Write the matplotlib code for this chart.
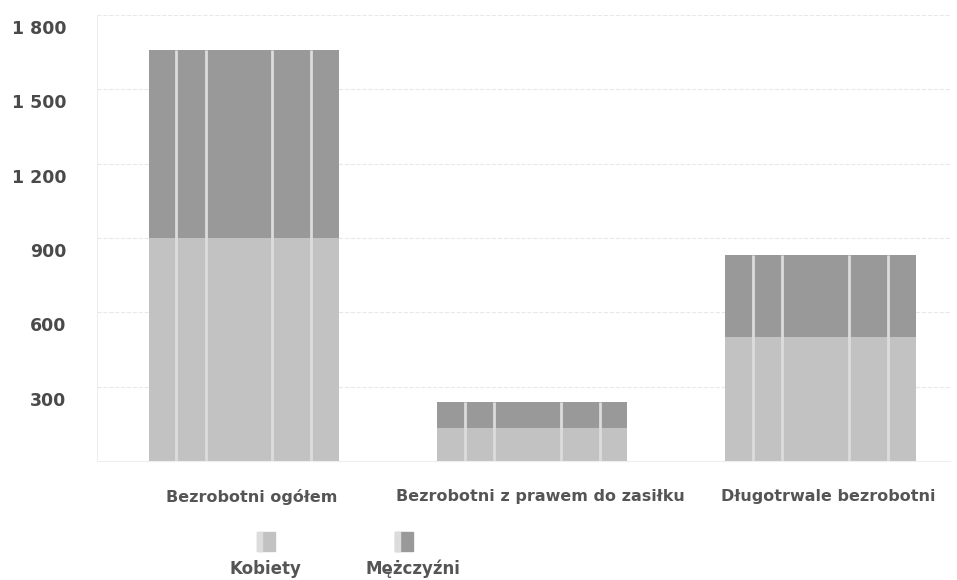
import numpy as np
import matplotlib.pyplot as plt
import matplotlib.transforms as mtransforms
from matplotlib.patches import Rectangle

plt.rcParams['font.family'] = ['DejaVu Sans']

kategorie = ['Bezrobotni ogółem', 'Bezrobotni z prawem do zasiłku', 'Długotrwale bezrobotni']
kobiety = [900, 133, 500]
mezczyzni = [760, 105, 330]
serie = ['Kobiety', 'Mężczyźni']
kolory = ['#c2c2c2', '#999999']
y_ticks = [300, 600, 900, 1200, 1500, 1800]
y_labels = ['300', '600', '900', '1 200', '1 500', '1 800']

fig = plt.figure(figsize=(9.57, 5.8), dpi=100)
ax = fig.add_axes([0.101, 0.205, 0.892, 0.769])

x = np.arange(len(kategorie))
b1 = ax.bar(x, kobiety, width=0.66, color=kolory[0], label=serie[0])
b2 = ax.bar(x, mezczyzni, width=0.66, bottom=kobiety, color=kolory[1], label=serie[1])

# jasne pionowe pasy faktury wypełnienia słupków
for p1, p2 in zip(b1.patches, b2.patches):
    x0, w = p1.get_x(), p1.get_width()
    top = p2.get_y() + p2.get_height()
    for f in [0.145, 0.30, 0.65, 0.855]:
        ax.plot([x0 + f * w] * 2, [0, top], color='#dcdcdc', lw=2, solid_capstyle='butt')

ax.set_xlim(-0.51, 2.45)
ax.set_ylim(0, 1800)
ax.set_yticks(y_ticks)
ax.set_yticklabels(y_labels)
ax.yaxis.grid(True, color='#e8e8e8', linestyle='--', linewidth=0.8)
ax.set_axisbelow(True)
for s in ['top', 'right']:
    ax.spines[s].set_visible(False)
for s in ['left', 'bottom']:
    ax.spines[s].set_color('#eeeeee')
ax.tick_params(axis='both', length=0)
ax.tick_params(axis='y', pad=22, labelsize=12.5, labelcolor='#4a4a4a')
ax.set_xticks(x)
ax.set_xticklabels(kategorie)
ax.tick_params(axis='x', pad=20, labelsize=11.5, labelcolor='#555555')
for lab in ax.get_yticklabels() + ax.get_xticklabels():
    lab.set_fontweight('bold')
# etykiety osi Y lekko poniżej linii siatki
off = mtransforms.ScaledTranslation(0, -12 / 100, fig.dpi_scale_trans)
for lab in ax.get_yticklabels():
    lab.set_transform(lab.get_transform() + off)
offx = mtransforms.ScaledTranslation(8 / 100, 0, fig.dpi_scale_trans)
for lab in ax.get_xticklabels():
    lab.set_transform(lab.get_transform() + offx)

# legenda: ikona nad tekstem
ikona_x = [266 / 957, 404 / 957]
tekst_x = [265 / 957, 413 / 957]
for xi, xt, nazwa, kol in zip(ikona_x, tekst_x, serie, kolory):
    fig.patches.append(Rectangle((xi - 9 / 957, 1 - 551 / 580), 18 / 957, 19 / 580,
                                 transform=fig.transFigure, color=kol))
    fig.patches.append(Rectangle((xi - 9 / 957, 1 - 551 / 580), 5 / 957, 19 / 580,
                                 transform=fig.transFigure, color='#dcdcdc'))
    fig.text(xt, 1 - 569 / 580, nazwa, ha='center', va='center', fontsize=12,
             fontweight='bold', color='#555555')

fig.savefig('out.png', dpi=100)
